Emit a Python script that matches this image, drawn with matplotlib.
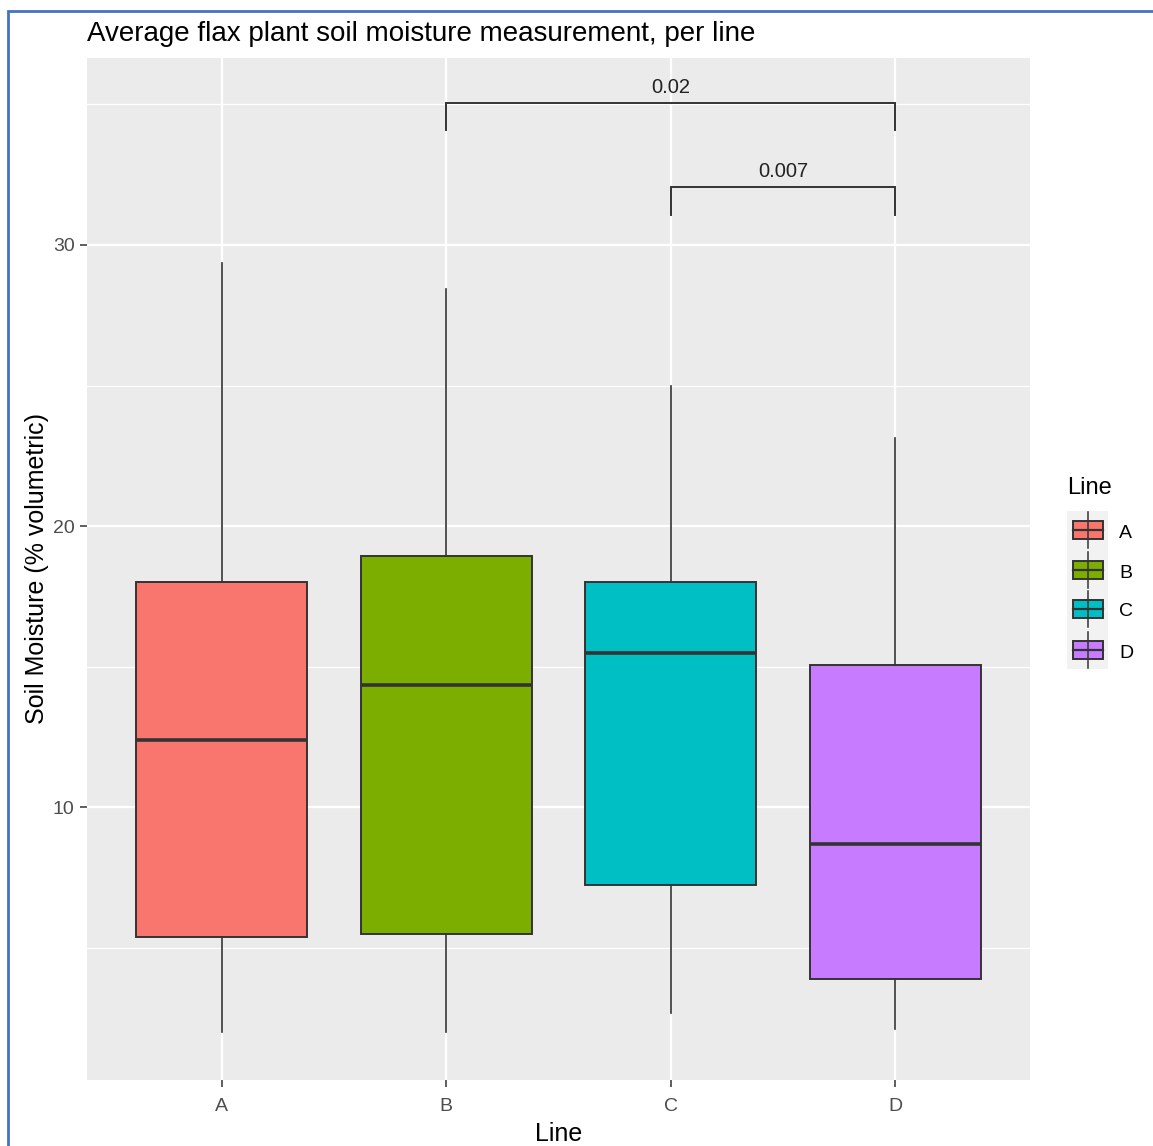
import matplotlib

matplotlib.use("Agg")
import matplotlib.pyplot as plt
from matplotlib.patches import Rectangle
from matplotlib.lines import Line2D

plt.rcParams["font.family"] = ["Liberation Sans", "DejaVu Sans"]

LINES = ["A", "B", "C", "D"]
COLORS = ["#F8766D", "#7CAE00", "#00BFC4", "#C77CFF"]

WHISKER_LOW = [2.0, 2.0, 2.7, 2.1]
Q1 = [5.4, 5.5, 7.25, 3.9]
MEDIAN = [12.4, 14.35, 15.5, 8.7]
Q3 = [18.0, 18.95, 18.0, 15.05]
WHISKER_HIGH = [29.35, 28.45, 25.0, 23.15]

# pairwise comparisons: (left group, right group, bracket height, tip height, label)
COMPARISONS = [
    ("B", "D", 35.05, 34.1, "0.02"),
    ("C", "D", 32.05, 31.05, "0.007"),
]

GREY_BG = "#EBEBEB"
OUTLINE = "#333333"

W, H = 1153, 1146
fig = plt.figure(figsize=(W / 100, H / 100), dpi=100)


def fx(px):
    return px / W


def fy(py):
    return 1 - py / H


ax = fig.add_axes([fx(87), fy(1080), fx(1030) - fx(87), fy(58) - fy(1080)])
ax.set_facecolor(GREY_BG)

positions = list(range(1, len(LINES) + 1))
stats = []
for i, name in enumerate(LINES):
    stats.append({
        "label": name,
        "whislo": WHISKER_LOW[i],
        "q1": Q1[i],
        "med": MEDIAN[i],
        "q3": Q3[i],
        "whishi": WHISKER_HIGH[i],
        "fliers": [],
    })

bp = ax.bxp(
    stats,
    positions=positions,
    widths=0.76,
    patch_artist=True,
    showcaps=False,
    showfliers=False,
    manage_ticks=False,
    boxprops=dict(edgecolor=OUTLINE, linewidth=1.4),
    whiskerprops=dict(color=OUTLINE, linewidth=1.2),
    medianprops=dict(color=OUTLINE, linewidth=2.6, solid_capstyle="butt"),
)
for patch, color in zip(bp["boxes"], COLORS):
    patch.set_facecolor(color)

ax.set_xlim(0.4, 4.6)
ax.set_ylim(0.3, 36.65)
ax.set_yticks([10, 20, 30])
ax.set_yticks([5, 15, 25, 35], minor=True)
ax.set_xticks(positions)
ax.set_xticklabels(LINES)
ax.grid(True, which="major", color="white", linewidth=1.6)
ax.grid(True, which="minor", axis="y", color="white", linewidth=0.9)
ax.set_axisbelow(True)
for spine in ax.spines.values():
    spine.set_visible(False)
ax.tick_params(axis="both", which="major", colors="#333333", length=5, width=1.1,
               labelsize=14, labelcolor="#4D4D4D", pad=4)
ax.tick_params(axis="x", which="major", pad=8)
ax.tick_params(axis="y", which="minor", length=0)

for left, right, top, tip, label in COMPARISONS:
    x0 = LINES.index(left) + 1
    x1 = LINES.index(right) + 1
    ax.plot([x0, x0, x1, x1], [tip, top, top, tip], color=OUTLINE, linewidth=1.4,
            solid_joinstyle="miter")
    ax.text((x0 + x1) / 2, top + 0.22, label, ha="center", va="bottom",
            fontsize=14.5, color="#222222")

ax.set_ylabel("Soil Moisture (% volumetric)", fontsize=18, color="black", labelpad=3)
ax.set_xlabel("Line", fontsize=18, color="black", labelpad=5)
ax.set_title("Average flax plant soil moisture measurement, per line", fontsize=20,
             loc="left", x=0, pad=12, color="black")

# legend drawn on its own small axes in pixel-like units
leg = fig.add_axes([fx(1065), fy(670), fx(1150) - fx(1065), fy(470) - fy(670)])
leg.set_xlim(1065, 1150)
leg.set_ylim(670, 470)
leg.axis("off")
leg.text(1067, 488, "Line", fontsize=17, ha="left", va="center", color="black")
leg.add_patch(Rectangle((1067, 511), 41, 158, facecolor="#F2F2F2", edgecolor="none"))
key_y = [530, 570, 609, 650]
for y, color, name in zip(key_y, COLORS, LINES):
    leg.add_line(Line2D([1088, 1088], [y - 18, y + 18], color=OUTLINE, linewidth=1.1))
    leg.add_patch(Rectangle((1073, y - 9), 30, 18, facecolor=color, edgecolor=OUTLINE,
                            linewidth=1.4))
    leg.add_line(Line2D([1073, 1103], [y, y], color=OUTLINE, linewidth=1.6))
    leg.text(1119, y + 3, name, fontsize=14, ha="left", va="center", color="black")

# outer frame
fig.add_artist(Rectangle((fx(8), fy(H + 20)), fx(W + 20), fy(11) - fy(H + 20),
                         transform=fig.transFigure, facecolor="none",
                         edgecolor="#4472C4", linewidth=2))

fig.savefig("out.png", dpi=100)
